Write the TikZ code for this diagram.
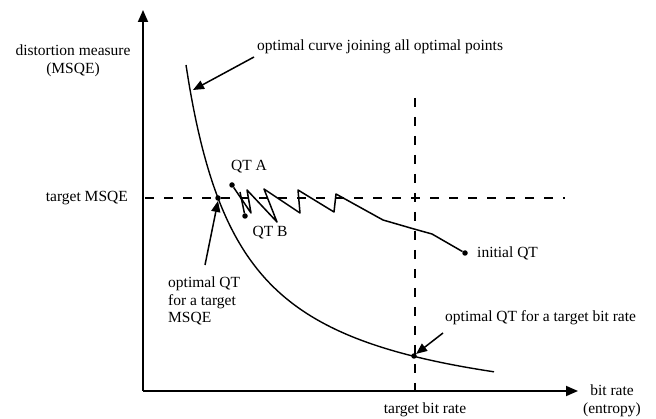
\documentclass[tikz,border=0pt]{standalone}
\usepackage{fontspec}
\setmainfont{Liberation Serif}
\usepackage{tikz}
\usetikzlibrary{arrows.meta, positioning}

\tikzset{
  lbl/.style={inner sep=1pt, font=\fontsize{15.5}{17.5}\selectfont},
  axisline/.style={line width=1.8pt, -{Triangle[length=12pt,width=10pt]}},
  ptr/.style={line width=1.5pt, -{Triangle[length=11pt,width=9pt]}},
  guide/.style={line width=1.2pt, dash pattern=on 9pt off 10pt},
  dot/.style={circle, fill, inner sep=0pt, minimum size=5.5pt}
}

\begin{document}
\begin{tikzpicture}[x=1pt, y=-1pt]
  \useasboundingbox (0,0) rectangle (656,419);

  % axes
  \coordinate (orig) at (143,391);
  \coordinate (ytip) at (143,10);
  \coordinate (xtip) at (578,391);
  \draw[axisline] (orig) -- (ytip);
  \draw[axisline] (orig) -- (xtip);

  % target lines
  \coordinate (hl) at (145,198);
  \coordinate (hr) at (565,198);
  \coordinate (vt) at (415,98);
  \coordinate (vb) at (415,391);
  \draw[guide] (hl) -- (hr);
  \draw[guide] (vt) -- (vb);

  % optimal curve
  \draw[line width=1.4pt] plot[domain=186:494, samples=90, smooth]
    (\x, {426.6 - 198.86/((\x-131)/100)});
  \node[dot] (optmsqe) at (218,198) {};
  \node[dot] (optrate) at (414,356) {};

  % path of the search
  \node[dot] (qta) at (232,185) {};
  \node[dot] (qtb) at (245,216) {};
  \node[dot] (init) at (465,253) {};
  \draw[line width=1.5pt, line join=round] (init) -- (432,234) -- (414,229) -- (383,220)
    -- (336,194) -- (334,212) -- (298,190) -- (300,213) -- (264,189) -- (277,222)
    -- (247,190) -- (251,213) -- (qta);
  \draw[line width=1.5pt] (240,192) -- (qtb);

  % labels
  \node[lbl, align=center] (ylbl) at (73,61) {distortion measure\\(MSQE)};
  \node[lbl, anchor=east] (msqelbl) at (129,198) {target MSQE};
  \node[lbl, anchor=west] (curvelbl) at (256,47) {optimal curve joining all optimal points};
  \node[lbl] (qtalbl) at (249,167) {QT A};
  \node[lbl] (qtblbl) at (270,233) {QT B};
  \node[lbl, anchor=west] (initlbl) at (476,253) {initial QT};
  \node[lbl, align=left, anchor=north west] (optmsqelbl) at (167,276)
    {optimal QT\\for a target\\MSQE};
  \node[lbl, anchor=west] (optratelbl) at (444,318) {optimal QT for a target bit rate};
  \node[lbl] (ratelbl) at (425,410) {target bit rate};
  \node[lbl, align=center] (xlbl) at (612,401) {bit rate\\(entropy)};

  % pointers
  \coordinate (curvept) at (193,90);
  \coordinate (curvefrom) at (254,57);
  \draw[ptr] (curvefrom) -- (curvept);
  \coordinate (msqefrom) at (205,265);
  \draw[ptr] (msqefrom) -- (optmsqe.south);
  \coordinate (ratefrom) at (443,333);
  \draw[ptr] (ratefrom) -- (optrate.north east);
\end{tikzpicture}
\end{document}
